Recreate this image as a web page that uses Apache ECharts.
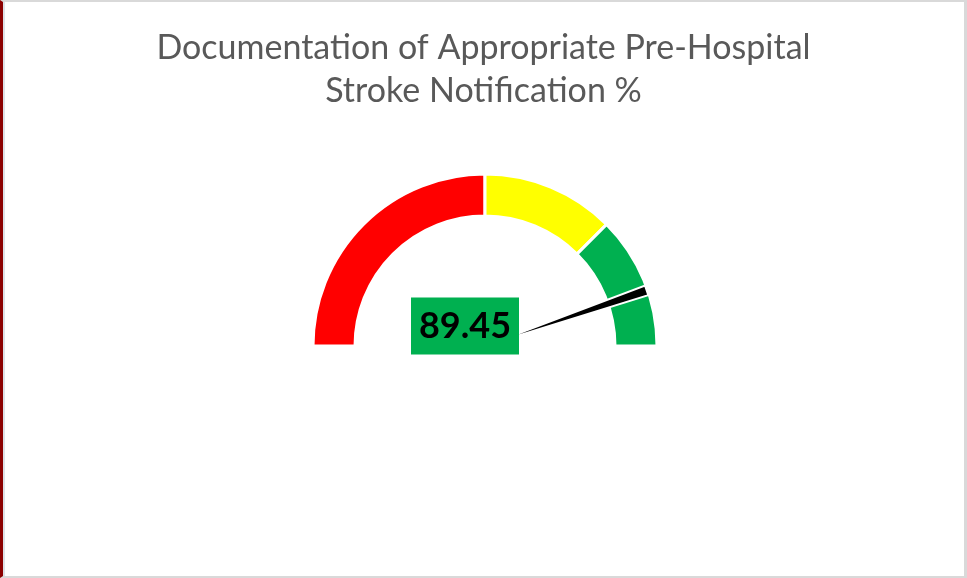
<!DOCTYPE html>
<html>
<head>
<meta charset="utf-8">
<script src="https://cdn.jsdelivr.net/npm/echarts@6/dist/echarts.min.js"></script>
<style>
    html, body { margin: 0; padding: 0; background: #fff; }
    #frame {
        position: absolute; left: 0; top: 0; width: 967px; height: 578px;
        box-sizing: border-box; background: #fff;
        border-top: 2px solid #d9d9d9; border-bottom: 2px solid #d9d9d9;
        border-right: 3px solid #d9d9d9; border-left: 3px solid #8b0000;
    }
    #inner { position: absolute; left: 0; top: 0; right: 0; bottom: 0; border-left: 2px solid #dde1e6; }
    #main { position: absolute; left: 0; top: 0; width: 967px; height: 578px; }
</style>
</head>
<body>
<div id="frame"><div id="inner"></div></div>
<div id="main"></div>
<script>
    // gauge bands: size of each band in % (red, yellow, green)
    var bandNames = ['Poor', 'Fair', 'Good']
    var bandSizes = [50, 25, 25]
    var bandColors = ['#ff0000', '#ffff00', '#00b050']
    var gaugeValue = 89.45
    var chartTitle = 'Documentation of Appropriate Pre-Hospital\nStroke Notification %'

    var chart = echarts.init(document.getElementById('main'))

    var ringData = bandSizes.map(function (v, i) {
        return { name: bandNames[i], value: v, itemStyle: { color: bandColors[i] } }
    })
    // hidden lower half of the doughnut
    var total = bandSizes.reduce(function (a, b) { return a + b }, 0)
    ringData.push({ name: 'hidden', value: total, itemStyle: { color: 'transparent', borderWidth: 0 } })

    var gaugeCenter = [485, 346]

    chart.setOption({
        backgroundColor: 'transparent',
        title: {
            text: chartTitle,
            left: 'center',
            top: 22,
            textStyle: {
                fontFamily: 'Lato',
                fontWeight: 'normal',
                fontSize: 34,
                lineHeight: 43,
                color: '#595959'
            }
        },
        series: [
            {
                type: 'pie',
                center: gaugeCenter,
                radius: [130, 172],
                startAngle: 180,
                clockwise: true,
                silent: true,
                label: { show: false },
                labelLine: { show: false },
                emphasis: { disabled: true },
                itemStyle: { borderColor: '#fff', borderWidth: 3 },
                z: 1,
                data: ringData
            },
            {
                // needle
                type: 'gauge',
                center: gaugeCenter,
                radius: 171,
                startAngle: 180,
                endAngle: 0,
                min: 0,
                max: total,
                axisLine: { show: false },
                splitLine: { show: false },
                axisTick: { show: false },
                axisLabel: { show: false },
                pointer: {
                    show: true,
                    icon: 'path://M0,0 L10,0 L5,100 Z',
                    length: 171,
                    width: 10,
                    itemStyle: {
                        color: '#000',
                        borderColor: '#fff',
                        borderWidth: 2
                    }
                },
                anchor: { show: false },
                title: { show: false },
                detail: { show: false },
                z: 2,
                animation: false,
                data: [{ value: gaugeValue }]
            },
            {
                // value box, above the needle
                type: 'gauge',
                center: gaugeCenter,
                radius: 171,
                startAngle: 180,
                endAngle: 0,
                min: 0,
                max: total,
                axisLine: { show: false },
                splitLine: { show: false },
                axisTick: { show: false },
                axisLabel: { show: false },
                pointer: { show: false },
                anchor: { show: false },
                title: { show: false },
                detail: {
                    show: true,
                    offsetCenter: [-20, -20],
                    valueAnimation: false,
                    formatter: function (v) { return v.toFixed(2) },
                    fontFamily: 'Lato',
                    fontWeight: 'bold',
                    fontSize: 36,
                    color: '#000',
                    backgroundColor: '#00b050',
                    width: 88,
                    lineHeight: 33,
                    padding: [12, 10]
                },
                z: 3,
                animation: false,
                data: [{ value: gaugeValue }]
            }
        ]
    })
</script>
</body>
</html>
